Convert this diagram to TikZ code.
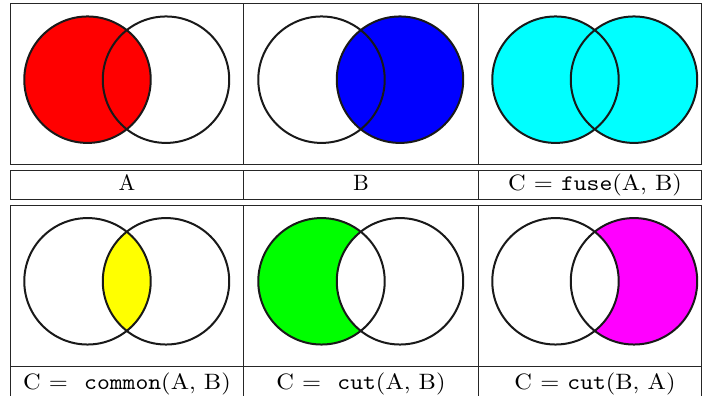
\documentclass[tikz,border=0pt]{standalone}
\usepackage{tikz}
\definecolor{vcyan}{RGB}{0,255,255}
\definecolor{vmagenta}{RGB}{255,0,255}
\definecolor{vyellow}{RGB}{255,255,0}
\definecolor{vgreen}{RGB}{0,255,0}
\definecolor{vred}{RGB}{255,0,0}
\definecolor{vblue}{RGB}{0,0,255}
\newcommand\widetext[1]{\scalebox{1.1}[1]{#1}}

\begin{document}
\begin{tikzpicture}[x=.45pt,y=-.45pt,
  rule/.style={line width=.45pt,black!85},
  ring/.style={line width=.9pt,black!90},
  lbl/.style={anchor=base,inner sep=0pt}]
\useasboundingbox (0,0) rectangle (703,396);

% table rules
\draw[rule] (10,4) rectangle (701.5,165);
\draw[rule] (244,4) -- (244,165) (478,4) -- (478,165);
\draw[rule] (10,171) rectangle (701.5,200);
\draw[rule] (244,171) -- (244,200) (478,171) -- (478,200);
\draw[rule] (10,396) -- (10,206) -- (701.5,206) -- (701.5,396);
\draw[rule] (10,367) -- (701.5,367);
\draw[rule] (244,206) -- (244,396) (478,206) -- (478,396);

% circle centres
\coordinate (a1) at (87.5,79.7);  \coordinate (b1) at (166,79.7);
\coordinate (a2) at (321.5,79.7); \coordinate (b2) at (400,79.7);
\coordinate (a3) at (555.5,79.7); \coordinate (b3) at (634,79.7);
\coordinate (a4) at (87.5,281.3);  \coordinate (b4) at (166,281.3);
\coordinate (a5) at (321.5,281.3); \coordinate (b5) at (400,281.3);
\coordinate (a6) at (555.5,281.3); \coordinate (b6) at (634,281.3);

% A
\fill[vred] (a1) circle (1cm);
\draw[ring] (a1) circle (1cm) (b1) circle (1cm);
% B
\fill[vblue] (b2) circle (1cm);
\draw[ring] (a2) circle (1cm) (b2) circle (1cm);
% fuse
\fill[vcyan] (a3) circle (1cm) (b3) circle (1cm);
\draw[ring] (a3) circle (1cm) (b3) circle (1cm);
% common
\begin{scope}
  \clip (a4) circle (1cm);
  \fill[vyellow] (b4) circle (1cm);
\end{scope}
\draw[ring] (a4) circle (1cm) (b4) circle (1cm);
% cut A B
\fill[vgreen] (a5) circle (1cm);
\fill[white] (b5) circle (1cm);
\draw[ring] (a5) circle (1cm) (b5) circle (1cm);
% cut B A
\fill[vmagenta] (b6) circle (1cm);
\fill[white] (a6) circle (1cm);
\draw[ring] (a6) circle (1cm) (b6) circle (1cm);

% labels
\node[lbl] (la) at (127,191) {A};
\node[lbl] (lb) at (361,191) {B};
\node[lbl] (lc) at (595,191) {\widetext{C = \texttt{fuse}(A, B)}};
\node[lbl] (ld) at (127,389.5) {\widetext{C = \ \texttt{common}(A, B)}};
\node[lbl] (le) at (361,389.5) {\widetext{C = \ \texttt{cut}(A, B)}};
\node[lbl] (lf) at (595,389.5) {\widetext{C = \texttt{cut}(B, A)}};
\end{tikzpicture}
\end{document}
